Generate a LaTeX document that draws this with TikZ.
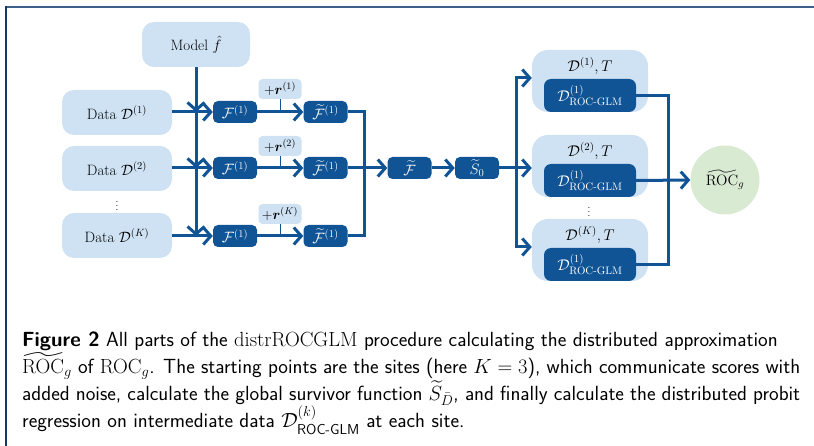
\RequirePackage{fix-cm}
\documentclass[tikz,border=0pt]{standalone}
\usepackage{amsmath,amssymb,bm}
\usetikzlibrary{arrows.meta}
\definecolor{dblue}{RGB}{16,84,150}
\definecolor{lblue}{RGB}{207,226,243}
\definecolor{lgreen}{RGB}{217,234,211}
\definecolor{frametop}{RGB}{60,95,140}
\definecolor{frameleft}{RGB}{20,55,100}
\begin{document}
\begin{tikzpicture}[x=1pt,y=-1pt,
  lbox/.style={fill=lblue, rounded corners=12pt, inner sep=0pt, font=\fontsize{15}{17}\selectfont},
  dbox/.style={fill=dblue, text=white, rounded corners=5pt, minimum width=44pt, minimum height=22pt, inner sep=0pt, font=\fontsize{15}{17}\selectfont},
  rbox/.style={fill=lblue, rounded corners=4pt, minimum width=43pt, minimum height=20pt, inner sep=0pt, font=\fontsize{14}{16}\selectfont},
  ibox/.style={fill=dblue, text=white, rounded corners=7pt, minimum width=92pt, minimum height=33pt, inner sep=0pt, font=\fontsize{15.5}{17}\selectfont},
  conn/.style={draw=dblue, line width=3pt},
  arr/.style={conn, -{Straight Barb[length=7.5pt,width=17pt]}},
  tick/.style={draw=dblue, line width=1pt},
  plain/.style={inner sep=0pt, font=\fontsize{15.5}{17}\selectfont},
]
\useasboundingbox (0,0) rectangle (814,446);
% frame
\draw[frametop, line width=2pt] (6,7) -- (814,7);
\draw[frameleft, line width=2pt] (6,6) -- (6,446);

% left column
\node[lbox, minimum width=108pt, minimum height=45pt] (model) at (196,44.5) {Model $\hat{f}$};
\node[lbox, minimum width=110pt, minimum height=45pt] (d1) at (117,112.5) {Data $\mathcal{D}^{(1)}$};
\node[lbox, minimum width=110pt, minimum height=45pt] (d2) at (117,168.5) {Data $\mathcal{D}^{(2)}$};
\node[lbox, minimum width=110pt, minimum height=45pt] (dK) at (117,235.5) {Data $\mathcal{D}^{(K)}$};
\node[plain, font=\fontsize{10}{11}\selectfont] (dots1) at (117,203) {$\vdots$};

% F nodes
\node[dbox] (f1) at (235,112) {$\mathcal{F}^{(1)}$};
\node[dbox] (f2) at (235,168) {$\mathcal{F}^{(1)}$};
\node[dbox] (fK) at (235,236) {$\mathcal{F}^{(1)}$};
\node[rbox] (r1) at (280,89) {$+\boldsymbol{r}^{(1)}$};
\node[rbox] (r2) at (280,146) {$+\boldsymbol{r}^{(2)}$};
\node[rbox] (rK) at (280,214) {$+\boldsymbol{r}^{(K)}$};
\node[dbox] (ft1) at (325.5,112) {$\widetilde{\mathcal{F}}^{(1)}$};
\node[dbox] (ft2) at (325.5,168) {$\widetilde{\mathcal{F}}^{(1)}$};
\node[dbox] (ftK) at (325.5,236) {$\widetilde{\mathcal{F}}^{(1)}$};
\node[dbox] (ftc) at (409.5,168) {$\widetilde{\mathcal{F}}$};
\node[dbox] (s0) at (477,168) {$\widetilde{S}_0$};

% right group
\node[lbox, rounded corners=16pt, minimum width=116pt, minimum height=62pt] (o1) at (590,81) {};
\node[lbox, rounded corners=16pt, minimum width=116pt, minimum height=62pt] (o2) at (590,166) {};
\node[lbox, rounded corners=16pt, minimum width=116pt, minimum height=62pt] (o3) at (590,250) {};
\node[ibox] (i1) at (590,95.5) {$\mathcal{D}^{(1)}_{\text{ROC-GLM}}$};
\node[ibox] (i2) at (590,180.5) {$\mathcal{D}^{(1)}_{\text{ROC-GLM}}$};
\node[ibox] (i3) at (590,264.5) {$\mathcal{D}^{(1)}_{\text{ROC-GLM}}$};
\node[plain] (t1) at (590,66) {$\mathcal{D}^{(1)}, T$};
\node[plain] (t2) at (590,151) {$\mathcal{D}^{(2)}, T$};
\node[plain] (t3) at (590,235) {$\mathcal{D}^{(K)}, T$};
\node[plain, font=\fontsize{10}{11}\selectfont] (dots2) at (589,209) {$\vdots$};
\node[circle, fill=lgreen, minimum size=69pt, inner sep=0pt, font=\fontsize{15}{17}\selectfont] (roc) at (725,180) {$\widetilde{\mathrm{ROC}}_g$};

% connectors: data -> F
\draw[arr] (d1.east |- f1.west) -- (f1.west);
\draw[arr] (d2.east |- f2.west) -- (f2.west);
\draw[arr] (dK.east |- fK.west) -- (fK.west);
\draw[arr] (model.south) -- (model.south |- f1.west);
\draw[arr] (model.south) -- (model.south |- f2.west);
\draw[arr] (model.south) -- (model.south |- fK.west);
% F -> Ftilde with noise
\draw[arr] (f1) -- (ft1);
\draw[arr] (f2) -- (ft2);
\draw[arr] (fK) -- (ftK);
\draw[tick] (r1.south) -- (r1.south |- f1.east);
\draw[tick] (r2.south) -- (r2.south |- f2.east);
\draw[tick] (rK.south) -- (rK.south |- fK.east);
% merge
\coordinate (jx) at (364,0);
\draw[conn] (ft1.east) -| (jx |- ftK.east) -- (ftK.east);
\draw[arr] (ft2.east) -- (ftc.west);
\draw[arr] (ftc) -- (s0);
% split
\coordinate (sx) at (516,0);
\draw[conn] (s0.east) -- (sx |- s0.east);
\draw[arr] (sx |- s0.east) |- ([yshift=3pt]o1.west);
\draw[arr] (sx |- s0.east) |- ([yshift=3pt]o3.west);
\draw[arr] (s0.east) -- (o2.west |- s0.east);
% final merge
\coordinate (rx) at (668,0);
\draw[conn] (i1.east) -| (rx |- i3.east) -- (i3.east);
\draw[arr] (i2.east) -- (roc.west);

% caption
\node[anchor=base west, text width=778pt, inner sep=0pt, align=justify, font=\fontsize{20.5}{25}\selectfont\sffamily] (cap) at (22,347) {\textbf{Figure 2} All parts of the $\mathrm{distrROCGLM}$ procedure calculating the distributed approximation\newline $\widetilde{\mathrm{ROC}}_g$ of $\mathrm{ROC}_g$. The starting points are the sites (here $K=3$), which communicate scores with\linebreak added noise, calculate the global survivor function $\widetilde{S}_{\bar{D}}$, and finally calculate the distributed probit\linebreak regression on intermediate data $\mathcal{D}^{(k)}_{\text{ROC-GLM}}$ at each site.};
\end{tikzpicture}
\end{document}
